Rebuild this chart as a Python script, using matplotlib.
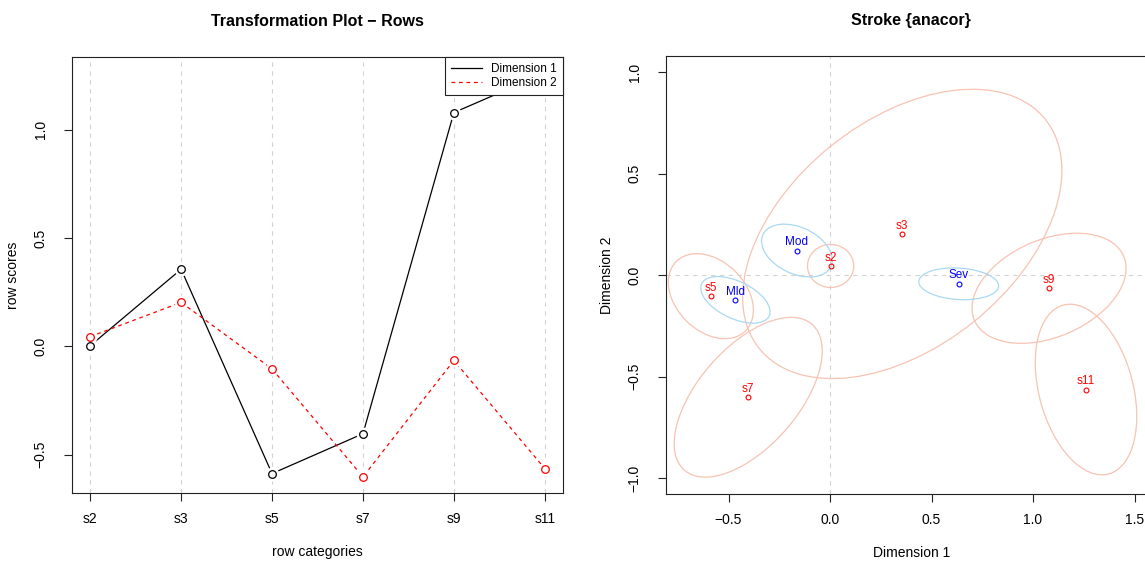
import numpy as np
import matplotlib
matplotlib.use('Agg')
import matplotlib.pyplot as plt
from matplotlib.patches import Ellipse

plt.rcParams['font.family'] = ['Liberation Sans', 'DejaVu Sans']

# ---- data
row_cats = ['s2', 's3', 's5', 's7', 's9', 's11']
dim1 = [0.003, 0.356, -0.587, -0.403, 1.079, 1.261]
dim2 = [0.045, 0.203, -0.104, -0.602, -0.065, -0.564]

col_cats = ['Mld', 'Mod', 'Sev']
col_x = [-0.466, -0.163, 0.634]
col_y = [-0.122, 0.121, -0.043]

# confidence ellipses (full width, full height, angle deg)
row_ell_w = [0.228, 1.806, 0.483, 0.955, 0.80, 0.862]
row_ell_h = [0.212, 1.116, 0.343, 0.49, 0.48, 0.463]
row_ell_a = [0, 38.7, -45, 48.8, 23.3, -75]
col_ell_w = [0.369, 0.37, 0.394]
col_ell_h = [0.183, 0.229, 0.155]
col_ell_a = [-25.7, -25.2, -3.5]

W, H = 1145, 565
fig = plt.figure(figsize=(W / 100, H / 100), dpi=100)

grid_col = '#D3D3D3'
ell_red = '#F7C3B3'
ell_blue = '#A9D9F2'


def r_style(ax):
    for s in ax.spines.values():
        s.set_linewidth(0.8)
        s.set_color('#222222')
    ax.tick_params(direction='out', length=5.5, width=0.8, labelsize=10,
                   color='#222222')
    ax.tick_params(axis='x', pad=8)
    ax.tick_params(axis='y', pad=12)
    for lab in ax.get_yticklabels():
        lab.set_rotation(90)
        lab.set_va('center')


# ---------------- left: transformation plot
ax1 = fig.add_axes([72 / W, 1 - 493 / H, 491 / W, 436 / H])
xs = np.arange(1, len(row_cats) + 1)
allv = dim1 + dim2
lo, hi = min(allv), max(allv)
pad = 0.04 * (hi - lo)
ax1.set_ylim(lo - pad, hi + pad)
ax1.set_xlim(0.8, len(row_cats) + 0.2)
for x in xs:
    ax1.axvline(x, color=grid_col, lw=0.8, ls=(0, (4, 4)), zorder=0)

ax1.plot(xs, dim1, color='black', lw=0.9, zorder=2, label='Dimension 1')
ax1.plot(xs, dim2, color='red', lw=0.9, ls=(0, (3, 3)), zorder=2, label='Dimension 2')
# gaps around the points like R type="b"
ax1.plot(xs, dim1, 'o', ms=10, mfc='white', mec='none', zorder=3)
ax1.plot(xs, dim2, 'o', ms=10, mfc='white', mec='none', zorder=3)
ax1.plot(xs, dim1, 'o', ms=5.5, mfc='none', mec='black', mew=0.9, zorder=4)
ax1.plot(xs, dim2, 'o', ms=5.5, mfc='none', mec='red', mew=0.9, zorder=4)

ax1.set_xticks(xs)
ax1.set_xticklabels(row_cats)
ax1.set_yticks([-0.5, 0.0, 0.5, 1.0])
ax1.set_yticklabels(['\u22120.5', '0.0', '0.5', '1.0'])
r_style(ax1)
ax1.set_xlabel('row categories', fontsize=10, labelpad=14)
ax1.set_ylabel('row scores', fontsize=10, labelpad=10)
ax1.set_title('Transformation Plot \u2212 Rows', fontsize=11.5, fontweight='bold', pad=22)
leg = ax1.legend(loc='upper right', borderaxespad=0, fontsize=8.5, fancybox=False,
                 framealpha=1, edgecolor='#222222', handlelength=2.6,
                 borderpad=0.5, labelspacing=0.15)
leg.get_frame().set_linewidth(0.8)
leg.set_zorder(5)

# ---------------- right: stroke map
ax2 = fig.add_axes([666 / W, 1 - 494 / H, 491 / W, 438 / H])
ax2.set_xlim(-0.808, -0.808 + 491 / 203)
ax2.set_ylim(-1.079, 1.080)
ax2.axvline(0, color=grid_col, lw=0.8, ls=(0, (4, 4)), zorder=0)
ax2.axhline(0, color=grid_col, lw=0.8, ls=(0, (4, 4)), zorder=0)

for i in range(len(row_cats)):
    ax2.add_patch(Ellipse((dim1[i], dim2[i]), row_ell_w[i], row_ell_h[i],
                          angle=row_ell_a[i], fill=False, ec=ell_red, lw=0.9, zorder=1))
for i in range(len(col_cats)):
    ax2.add_patch(Ellipse((col_x[i], col_y[i]), col_ell_w[i], col_ell_h[i],
                          angle=col_ell_a[i], fill=False, ec=ell_blue, lw=0.9, zorder=1))

ax2.plot(dim1, dim2, 'o', ms=3.5, mfc='none', mec='red', mew=0.8, zorder=3)
ax2.plot(col_x, col_y, 'o', ms=3.5, mfc='none', mec='blue', mew=0.8, zorder=3)
for i, lab in enumerate(row_cats):
    ax2.annotate(lab, (dim1[i], dim2[i]), xytext=(0, 6), textcoords='offset points',
                 ha='center', va='center', color='red', fontsize=8.5, zorder=4)
for i, lab in enumerate(col_cats):
    ax2.annotate(lab, (col_x[i], col_y[i]), xytext=(0, 6), textcoords='offset points',
                 ha='center', va='center', color='blue', fontsize=8.5, zorder=4)

ax2.set_xticks([-0.5, 0.0, 0.5, 1.0, 1.5])
ax2.set_xticklabels(['\u22120.5', '0.0', '0.5', '1.0', '1.5'])
ax2.set_yticks([-1.0, -0.5, 0.0, 0.5, 1.0])
ax2.set_yticklabels(['\u22121.0', '\u22120.5', '0.0', '0.5', '1.0'])
r_style(ax2)
ax2.set_xlabel('Dimension 1', fontsize=10, labelpad=14)
ax2.set_ylabel('Dimension 2', fontsize=10, labelpad=10)
fig.text((666 + 245) / W, 1 - 21 / H, 'Stroke {anacor}', fontsize=11.5,
         fontweight='bold', ha='center', va='center')

fig.savefig('out.png', dpi=100)
